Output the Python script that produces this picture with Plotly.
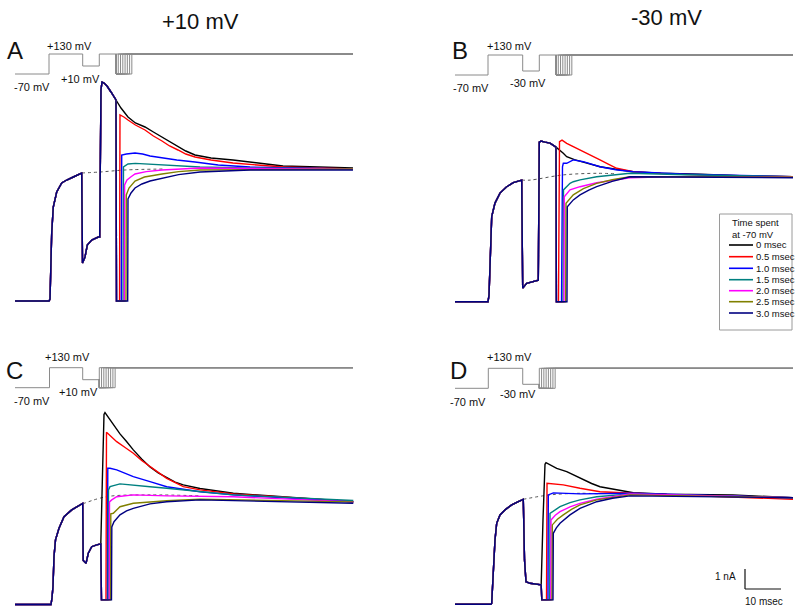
import plotly.graph_objects as go

# ---------------- data (time in ms from the +130 mV step, current in nA above holding) -------------
labels = ["0 msec", "0.5 msec", "1.0 msec", "1.5 msec", "2.0 msec", "2.5 msec", "3.0 msec"]
colors = ["#000000", "#ff0000", "#0000ff", "#008080", "#ff00ff", "#808000", "#000080"]

# Panel A (+10 mV interpulse, then +130 mV, then repolarization pulses)
A_pre_t = [-9.44, 0, 0.28, 0.75, 1.19, 2.14, 3.53, 4.92, 6.75, 9.08, 9.31, 10.0, 10.64, 11.86, 13.69, 14.08,
           14.44, 14.72, 15.28, 16.11, 17.22, 18.33, 18.61]
A_pre_i = [0, 0, 0.1, 3.4, 4.7, 5.45, 5.9, 6.05, 6.2, 6.4, 1.9, 2.2, 2.8, 3.05, 3.2, 3.2,
           10.55, 10.95, 10.9, 10.75, 10.45, 10.1, 10.05]
A_post_t = [
    [20.0, 21.94, 24.0, 26.67, 29.0, 31.39, 33.5, 35.83, 38.0, 40.56, 45.0, 51.11, 58.0, 65.0, 75.0, 84.44],
    [18.75, 19.6, 19.72, 20.8, 21.94, 24.0, 26.67, 29.0, 31.39, 33.5, 35.83, 38.0, 40.56, 45.0, 51.11, 58.0, 65.0, 84.44],
    [18.75, 20.08, 20.2, 21.5, 23.89, 26.0, 28.06, 31.39, 35.5, 40.56, 47.0, 55.83, 84.44],
    [18.75, 20.56, 20.69, 21.94, 24.0, 26.67, 32.22, 41.94, 55.0, 84.44],
    [18.75, 20.92, 21.0, 21.67, 22.7, 23.89, 27.0, 31.39, 41.94, 84.44],
    [18.75, 21.39, 21.47, 22.22, 23.89, 26.5, 31.39, 36.0, 41.94, 84.44],
    [18.75, 21.86, 21.94, 22.78, 23.89, 25.8, 28.06, 31.39, 36.0, 41.94, 55.83, 84.44],
]
A_post_i = [
    [9.65, 9.2, 8.9, 8.7, 8.45, 8.2, 7.95, 7.7, 7.5, 7.3, 7.15, 7.05, 6.9, 6.75, 6.7, 6.65],
    [0.0, 0.0, 9.3, 9.2, 9.05, 8.8, 8.55, 8.25, 8.0, 7.75, 7.55, 7.35, 7.2, 7.05, 6.9, 6.8, 6.7, 6.6],
    [0.0, 0.0, 7.3, 7.35, 7.4, 7.35, 7.25, 7.15, 7.05, 6.95, 6.8, 6.7, 6.6],
    [0.0, 0.0, 6.7, 6.85, 6.88, 6.85, 6.8, 6.7, 6.65, 6.6],
    [0.0, 0.0, 5.8, 6.05, 6.2, 6.35, 6.47, 6.55, 6.65, 6.6],
    [0.0, 0.0, 5.3, 5.65, 6.0, 6.2, 6.35, 6.47, 6.55, 6.6],
    [0.0, 0.0, 5.1, 5.4, 5.65, 5.85, 6.0, 6.15, 6.32, 6.45, 6.55, 6.55],
]
A_dot_t = [9.08, 14.2, 21.1, 32.2]
A_dot_i = [6.4, 6.45, 6.55, 6.6]

# Panel B (-30 mV interpulse)
B_pre_t = [-9.17, 0, 0.28, 0.56, 1.03, 1.94, 3.33, 5.19, 7.03, 9.36, 9.64, 10.75, 13.97, 14.25,
           14.72, 15.83, 17.22, 18.06, 18.89]
B_pre_i = [0, 0, 0.33, 2.1, 4.25, 4.93, 5.43, 5.75, 5.95, 6.08, 0.68, 0.92, 1.08, 7.98,
           8.03, 7.98, 7.93, 7.83, 7.73]
B_post_t = [
    [20.92, 21.86, 24.0, 26.39, 28.7, 31.11, 35.5, 40.28, 48.0, 58.89, 70.0, 84.72],
    [19.0, 19.58, 19.86, 20.56, 21.86, 24.2, 26.47, 28.8, 31.11, 33.4, 35.75, 40.36, 49.64, 60.0, 84.72],
    [19.0, 20.42, 20.69, 20.92, 21.86, 23.69, 26.47, 28.8, 31.11, 35.5, 40.36, 55.0, 84.72],
    [19.0, 20.83, 20.97, 22.78, 23.69, 25.56, 30.19, 39.44, 55.0, 84.72],
    [19.0, 21.11, 21.19, 22.78, 25.56, 30.19, 35.75, 39.44, 49.64, 84.72],
    [19.0, 21.58, 21.67, 23.69, 26.5, 30.19, 34.5, 39.44, 84.72],
    [19.0, 21.94, 22.03, 23.69, 25.56, 28.0, 30.19, 34.5, 39.44, 84.72],
]
B_post_i = [
    [7.42, 7.25, 7.1, 6.98, 6.86, 6.75, 6.62, 6.5, 6.42, 6.38, 6.3, 6.25],
    [0.0, 0.0, 8.0, 8.08, 7.92, 7.7, 7.5, 7.3, 7.09, 6.88, 6.67, 6.5, 6.39, 6.33, 6.25],
    [0.0, 0.0, 6.74, 6.92, 6.92, 7.09, 7.0, 6.88, 6.75, 6.6, 6.5, 6.38, 6.25],
    [0.0, 0.0, 5.59, 5.92, 6.0, 6.09, 6.25, 6.42, 6.35, 6.25],
    [0.0, 0.0, 5.25, 5.59, 5.75, 5.95, 6.1, 6.2, 6.25, 6.25],
    [0.0, 0.0, 4.92, 5.34, 5.65, 5.92, 6.1, 6.25, 6.24],
    [0.0, 0.0, 4.75, 5.09, 5.34, 5.58, 5.75, 6.02, 6.25, 6.2],
]
B_dot_t = [9.36, 11.67, 20.92, 30.19, 35.75]
B_dot_i = [6.08, 6.08, 6.34, 6.42, 6.39]

# Panel C (+10 mV, pulses straight after)
C_pre_t = [-9.58, 0.42, 0.69, 0.97, 1.25, 1.67, 2.64, 4.03, 6.17, 8.0, 9.22, 9.36, 10.14, 10.78,
           11.72, 13.11, 14.03, 14.25]
C_pre_i = [0, 0, 0.33, 0.9, 2.4, 3.23, 3.81, 4.39, 4.73, 4.93, 5.05, 2.2, 2.06, 2.56,
           2.89, 2.98, 3.03, 3.03]
C_post_t = [
    [14.72, 15.14, 15.42, 16.81, 18.2, 19.58, 21.4, 23.28, 25.6, 27.92, 30.2, 32.56, 34.9, 37.17, 41.81, 51.06, 64.94, 84.39],
    [14.44, 15.69, 15.83, 17.2, 18.67, 21.0, 23.28, 25.6, 27.92, 30.2, 32.56, 37.17, 41.81, 51.06, 84.39],
    [14.44, 16.11, 16.19, 16.81, 18.67, 21.0, 23.28, 27.92, 32.56, 41.81, 51.06, 84.39],
    [14.44, 16.31, 16.39, 16.81, 19.58, 23.28, 27.92, 32.56, 41.81, 51.06, 84.39],
    [14.44, 16.58, 16.67, 17.28, 18.67, 23.28, 32.56, 51.06, 84.39],
    [14.44, 16.94, 17.03, 17.72, 19.58, 23.28, 32.56, 41.81, 84.39],
    [14.44, 17.22, 17.31, 17.92, 19.58, 21.4, 23.28, 27.92, 32.56, 41.81, 84.39],
]
C_post_i = [
    [6.5, 9.5, 9.6, 9.23, 8.9, 8.53, 8.15, 7.73, 7.28, 6.88, 6.58, 6.33, 6.12, 5.98, 5.8, 5.56, 5.39, 5.14],
    [0.23, 0.23, 8.61, 8.4, 8.14, 7.85, 7.56, 7.2, 6.89, 6.58, 6.31, 5.89, 5.73, 5.53, 5.14],
    [0.23, 0.23, 6.81, 6.81, 6.73, 6.55, 6.39, 6.14, 5.89, 5.64, 5.48, 5.14],
    [0.23, 0.23, 5.73, 5.89, 6.03, 5.98, 5.89, 5.81, 5.64, 5.48, 5.2],
    [0.23, 0.23, 5.13, 5.23, 5.39, 5.48, 5.43, 5.39, 5.13],
    [0.23, 0.23, 4.53, 4.56, 4.89, 5.06, 5.19, 5.26, 5.13],
    [0.23, 0.23, 3.88, 4.14, 4.48, 4.68, 4.81, 5.03, 5.14, 5.23, 5.06],
]
C_dot_t = [9.22, 15.83, 27.92, 41.81]
C_dot_i = [5.03, 5.39, 5.48, 5.43]

# Panel D (-30 mV, pulses straight after)
D_pre_t = [-9.25, 0.75, 0.94, 1.39, 1.86, 2.33, 3.25, 4.64, 6.5, 8.33, 9.72, 10.06, 10.47, 11.58, 14.17, 14.69]
D_pre_i = [0, 0, 0.05, 1.55, 3.22, 4.05, 4.47, 4.72, 4.97, 5.13, 5.25, 2.22, 1.13, 1.05, 0.97, 0.97]
D_post_t = [
    [15.19, 15.75, 16.03, 19.0, 21.78, 24.1, 26.39, 28.7, 31.03, 35.67, 40.28, 49.56, 67.97, 84.64],
    [14.86, 16.17, 16.31, 20.83, 25.47, 31.03, 40.28, 67.97, 84.64],
    [14.86, 16.58, 16.67, 18.06, 25.47, 34.72, 40.28, 84.64],
    [14.86, 17.06, 17.14, 18.5, 19.92, 22.7, 25.47, 30.11, 39.36, 84.64],
    [14.86, 17.36, 17.42, 18.6, 19.92, 22.7, 25.47, 30.11, 39.36, 84.64],
    [14.86, 17.69, 17.78, 19.2, 20.83, 23.1, 25.47, 30.11, 39.36, 84.64],
    [14.86, 17.97, 18.06, 18.9, 19.92, 22.69, 25.47, 30.11, 34.5, 39.36, 84.64],
]
D_post_i = [
    [4.2, 7.0, 7.08, 6.8, 6.63, 6.42, 6.22, 6.04, 5.88, 5.72, 5.58, 5.5, 5.47, 5.33],
    [0.22, 0.22, 6.05, 5.97, 5.8, 5.63, 5.55, 5.38, 5.25],
    [0.22, 0.22, 5.47, 5.57, 5.52, 5.52, 5.55, 5.33],
    [0.22, 0.22, 4.55, 4.73, 4.88, 5.08, 5.22, 5.38, 5.52, 5.33],
    [0.22, 0.22, 4.22, 4.45, 4.63, 4.87, 5.05, 5.25, 5.52, 5.33],
    [0.22, 0.22, 3.97, 4.25, 4.47, 4.75, 4.97, 5.22, 5.47, 5.33],
    [0.22, 0.22, 3.55, 3.82, 4.05, 4.47, 4.8, 5.13, 5.3, 5.42, 5.33],
]
D_dot_t = [9.72, 17.14, 25.47, 31.03]
D_dot_i = [5.25, 5.47, 5.55, 5.52]

# Voltage protocols (step times in ms, levels in mV; drawn as step lines)
A_proto_t = [-9.44, 0, 9.36, 13.97, 18.61]
A_proto_v = [-70, 130, 10, 130, 130]
B_proto_t = [-9.17, 0, 9.64, 14.25, 18.89]
B_proto_v = [-70, 130, -30, 130, 130]
C_proto_t = [-9.58, 0, 9.22, 13.83]
C_proto_v = [-70, 130, 10, 10]
D_proto_t = [-9.25, 0, 9.56, 14.17]
D_proto_v = [-70, 130, -30, -30]
proto_end = [84.44, 84.72, 84.3, 84.64]
pulse_offsets = [0, 0.63, 1.26, 1.89, 2.52, 3.15, 3.78, 4.4]
pulse_level = -70
return_level = 130

scale_bar_nA = 1
scale_bar_ms = 10

# ---------------- layout geometry (pixels of the 800x614 page) ----------------
W, H = 800, 614
PX_PER_MS = 3.6
PX_PER_NA = 20.0
PX_PER_MV = 0.1
FONT = "Liberation Sans, Arial, sans-serif"

panels = [
    dict(xl=0, xr=400, step=49.0, base=301.0, top=0, bot=320, p130=54.0),
    dict(xl=400, xr=800, step=488.0, base=301.7, top=0, bot=320, p130=55.0),
    dict(xl=0, xr=400, step=49.5, base=604.5, top=307, bot=614, p130=367.7),
    dict(xl=400, xr=800, step=488.3, base=604.3, top=307, bot=614, p130=368.3),
]
pre_t = [A_pre_t, B_pre_t, C_pre_t, D_pre_t]
pre_i = [A_pre_i, B_pre_i, C_pre_i, D_pre_i]
post_t = [A_post_t, B_post_t, C_post_t, D_post_t]
post_i = [A_post_i, B_post_i, C_post_i, D_post_i]
dot_t = [A_dot_t, B_dot_t, C_dot_t, D_dot_t]
dot_i = [A_dot_i, B_dot_i, C_dot_i, D_dot_i]
proto_t = [A_proto_t, B_proto_t, C_proto_t, D_proto_t]
proto_v = [A_proto_v, B_proto_v, C_proto_v, D_proto_v]

fig = go.Figure()
layout = dict(width=W, height=H, margin=dict(l=0, r=0, t=0, b=0), paper_bgcolor="white",
              plot_bgcolor="rgba(0,0,0,0)", showlegend=False, font=dict(family=FONT))

def ax_name(prefix, n):
    return prefix if n == 1 else f"{prefix}{n}"

for k, p in enumerate(panels):
    xn = k + 1
    yn = k + 1
    pn = k + 5
    xr = [(p["xl"] - p["step"]) / PX_PER_MS, (p["xr"] - p["step"]) / PX_PER_MS]
    yr = [(p["base"] - p["bot"]) / PX_PER_NA, (p["base"] - p["top"]) / PX_PER_NA]
    ptop, pbot = p["p130"] - 14, p["p130"] + 36
    pr = [return_level - (pbot - p["p130"]) / PX_PER_MV, return_level + (p["p130"] - ptop) / PX_PER_MV]
    hid = dict(visible=False, showgrid=False, zeroline=False, fixedrange=True)
    layout[ax_name("xaxis", xn)] = dict(domain=[p["xl"] / W, p["xr"] / W], range=xr,
                                        anchor=ax_name("y", yn), **hid)
    layout[ax_name("yaxis", yn)] = dict(domain=[1 - p["bot"] / H, 1 - p["top"] / H], range=yr,
                                        anchor=ax_name("x", xn), **hid)
    layout[ax_name("yaxis", pn)] = dict(domain=[1 - pbot / H, 1 - ptop / H], range=pr,
                                        anchor=ax_name("x", xn), **hid)
    xa, ya, pa = ax_name("x", xn), ax_name("y", yn), ax_name("y", pn)

    # voltage protocol
    pc = "#8a8a8a"
    fig.add_trace(go.Scatter(x=proto_t[k], y=proto_v[k], mode="lines", line=dict(color=pc, width=1, shape="hv"),
                             xaxis=xa, yaxis=pa, hoverinfo="skip"))
    ts = proto_t[k][-1]
    vpre = proto_v[k][-1]
    for d in pulse_offsets:
        fig.add_trace(go.Scatter(x=[ts, ts, ts + d, ts + d, proto_end[k]],
                                 y=[vpre, pulse_level, pulse_level, return_level, return_level],
                                 mode="lines", line=dict(color=pc, width=1), xaxis=xa, yaxis=pa,
                                 hoverinfo="skip"))

    # dotted extrapolation
    fig.add_trace(go.Scatter(x=dot_t[k], y=dot_i[k], mode="lines",
                             line=dict(color="#555555", width=1, dash="dot", shape="spline"),
                             xaxis=xa, yaxis=ya, hoverinfo="skip"))
    # current traces
    for j in range(len(labels)):
        fig.add_trace(go.Scatter(x=pre_t[k] + post_t[k][j], y=pre_i[k] + post_i[k][j], mode="lines",
                                 line=dict(color=colors[j], width=1.4), name=labels[j],
                                 xaxis=xa, yaxis=ya))

fig.update_layout(**layout)

def px(x):
    return x / W

def py(y):
    return 1 - y / H

ann = []
def text(t, x, y, size, anchor="center"):
    ann.append(dict(text=t, x=px(x), y=py(y), xref="paper", yref="paper", showarrow=False,
                    xanchor=anchor, yanchor="middle", font=dict(size=size, color="#111111", family=FONT)))

text("+10 mV", 200, 21, 22)
text("-30 mV", 666, 17, 22)
for lab, x, y in [("A", 15, 50), ("B", 460, 50), ("C", 14, 370), ("D", 458, 370)]:
    text(lab, x, y, 24)
for t, x, y in [("+130 mV", 69, 46), ("-70 mV", 32, 87), ("+10 mV", 80, 79),
                ("+130 mV", 509, 46), ("-70 mV", 471, 88), ("-30 mV", 528, 83),
                ("+130 mV", 67, 357), ("-70 mV", 32, 401), ("+10 mV", 78, 392),
                ("+130 mV", 509, 357), ("-70 mV", 468, 402), ("-30 mV", 518, 394)]:
    text(t, x, y, 11)

# legend box
shapes = [dict(type="rect", xref="paper", yref="paper", x0=px(719.5), x1=px(792), y0=py(214), y1=py(330),
               line=dict(color="#9a9a9a", width=1), fillcolor="rgba(0,0,0,0)")]
text("Time spent", 730, 223, 9.5, "left")
text("at -70 mV", 730, 234.5, 9.5, "left")
leg_y = [245, 256.7, 268.3, 279.7, 290.7, 301.7, 313]
for j, lab in enumerate(labels):
    shapes.append(dict(type="line", xref="paper", yref="paper", x0=px(729), x1=px(753),
                       y0=py(leg_y[j]), y1=py(leg_y[j]), line=dict(color=colors[j], width=1.6)))
    text(lab, 753.5, leg_y[j], 9.5, "left")

# scale bar in panel D data units
pD = panels[3]
sb_t = (745 - pD["step"]) / PX_PER_MS
sb_i = (pD["base"] - 589) / PX_PER_NA
shapes.append(dict(type="line", xref="x4", yref="y4", x0=sb_t, x1=sb_t, y0=sb_i, y1=sb_i + scale_bar_nA,
                   line=dict(color="#111111", width=1.2)))
shapes.append(dict(type="line", xref="x4", yref="y4", x0=sb_t, x1=sb_t + scale_bar_ms, y0=sb_i, y1=sb_i,
                   line=dict(color="#111111", width=1.2)))
text("1 nA", 738, 576, 10, "right")
text("10 msec", 764, 601, 10)

fig.update_layout(annotations=ann, shapes=shapes)
fig.write_html("out.html", config={"displayModeBar": False},
               post_script="document.body.style.margin='0';document.body.style.padding='0';"
                           "document.body.style.overflow='hidden';")
